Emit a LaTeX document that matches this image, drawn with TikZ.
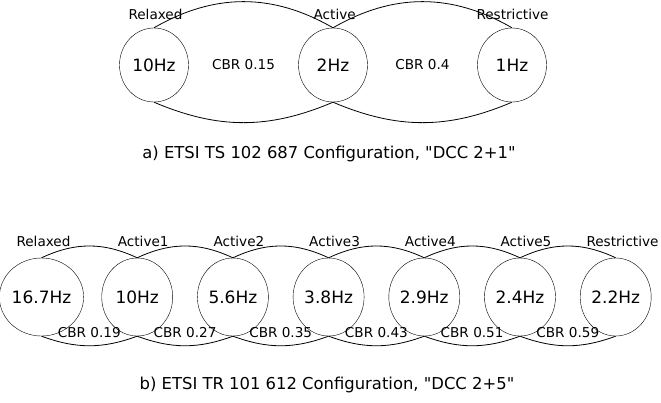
\documentclass[tikz,border=0pt]{standalone}
\usepackage{fontspec}
\setmainfont{DejaVu Sans}[Ligatures=TeXOff]
\usetikzlibrary{shapes.geometric}
\begin{document}
\begin{tikzpicture}[x=1pt,y=-1pt,
  hzA/.style={draw,ellipse,inner sep=0pt,minimum width=69pt,minimum height=74pt,font=\fontsize{17}{20}\selectfont},
  hzB/.style={draw,ellipse,inner sep=0pt,minimum width=71pt,minimum height=78pt,font=\fontsize{17}{20}\selectfont},
  lbl/.style={inner sep=0pt,font=\fontsize{13.6}{16}\selectfont},
  captxt/.style={inner sep=0pt,font=\fontsize{16.4}{19}\selectfont},
  arcline/.style={draw,line width=0.8pt}]
\useasboundingbox (0,0) rectangle (661,402);
% row a
\node[hzA] (a1) at (154,65) {10Hz};
\node[hzA] (a2) at (333,65) {2Hz};
\node[hzA] (a3) at (512,65) {1Hz};
\path[arcline] (a1.north) to[bend left=30] (a2.north);
\path[arcline] (a2.north) to[bend left=30] (a3.north);
\path[arcline] (a1.south) to[bend right=23] (a2.south);
\path[arcline] (a2.south) to[bend right=23] (a3.south);
\node[lbl] (la1) at (155.5,14) {Relaxed};
\node[lbl] (la2) at (334.7,14) {Active};
\node[lbl] (la3) at (512.5,14) {Restrictive};
\node[lbl] (ca1) at (243.5,65) {CBR 0.15};
\node[lbl] (ca2) at (422.5,65) {CBR 0.4};
\node[captxt] (capa) at (329,154) {a) ETSI TS 102 687 Configuration, "DCC 2+1"};
% row b
\node[hzB] (b1) at (41.5,297) {16.7Hz};
\node[hzB] (b2) at (137.2,297) {10Hz};
\node[hzB] (b3) at (232.9,297) {5.6Hz};
\node[hzB] (b4) at (328.6,297) {3.8Hz};
\node[hzB] (b5) at (424.3,297) {2.9Hz};
\node[hzB] (b6) at (520,297) {2.4Hz};
\node[hzB] (b7) at (615.7,297) {2.2Hz};
\foreach \i/\j in {1/2,2/3,3/4,4/5,5/6,6/7}{
  \path[arcline] (b\i.north) to[bend left=25] (b\j.north);
  \path[arcline] (b\i.south) to[bend right=20] (b\j.south);
}
\node[lbl] (lb1) at (43.5,241) {Relaxed};
\node[lbl] (lb2) at (143.2,241) {Active1};
\node[lbl] (lb3) at (238.9,241) {Active2};
\node[lbl] (lb4) at (334.6,241) {Active3};
\node[lbl] (lb5) at (430.3,241) {Active4};
\node[lbl] (lb6) at (526,241) {Active5};
\node[lbl] (lb7) at (622.5,241) {Restrictive};
\node[lbl] (cb1) at (89.3,333) {CBR 0.19};
\node[lbl] (cb2) at (185,333) {CBR 0.27};
\node[lbl] (cb3) at (280.7,333) {CBR 0.35};
\node[lbl] (cb4) at (376.4,333) {CBR 0.43};
\node[lbl] (cb5) at (472.1,333) {CBR 0.51};
\node[lbl] (cb6) at (567.8,333) {CBR 0.59};
\node[captxt] (capb) at (327,385) {b) ETSI TR 101 612 Configuration, "DCC 2+5"};
\end{tikzpicture}
\end{document}
